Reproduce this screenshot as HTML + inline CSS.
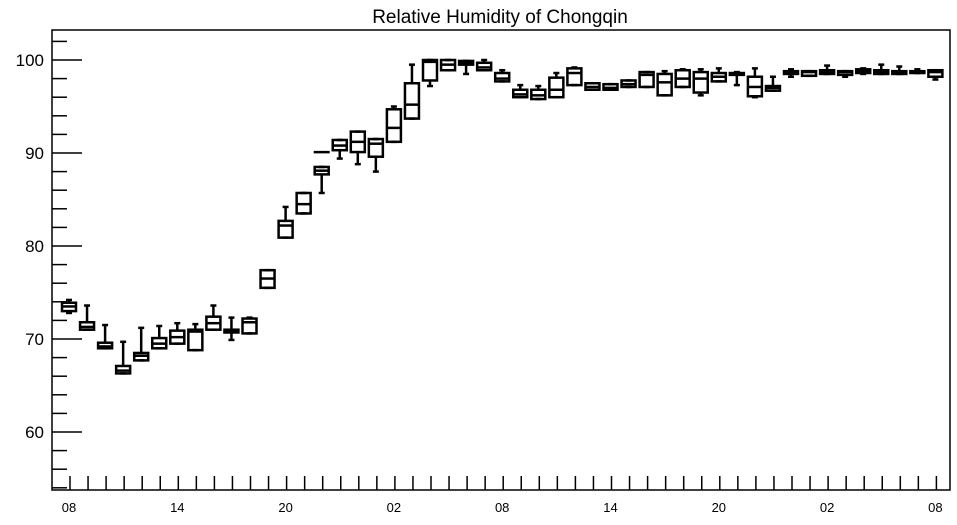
<!DOCTYPE html>
<html><head><meta charset="utf-8"><style>
body{margin:0;background:#fff;}
svg text{font-family:"Liberation Sans",Arial,sans-serif;}
</style></head><body>
<svg id="c" width="957" height="520" xmlns="http://www.w3.org/2000/svg">
<text x="500" y="23" text-anchor="middle" font-size="19">Relative Humidity of Chongqin</text>
<rect x="52" y="30" width="898" height="460" fill="none" stroke="#000" stroke-width="1.5"/>
<g id="axes"></g><g id="marks"></g>
</svg>
<script>
const hourLabels = ["08","14","20","02","08","14","20","02","08"];
const yTicks = [60,70,80,90,100];
const q1  = [73.0,71.0,69.0,66.3,67.7,69.0,69.5,68.8,71.0,70.7,70.6,75.5,80.9,83.5,87.7,90.3,90.1,89.6,91.2,93.7,97.8,98.9,99.5,98.9,97.7,96.0,95.8,96.0,97.3,96.8,96.8,97.1,97.1,96.2,97.1,96.5,97.7,98.4,96.1,96.7,98.5,98.3,98.5,98.4,98.6,98.5,98.5,98.6,98.2];
const med = [73.5,71.3,69.2,66.6,68.2,69.5,70.2,70.8,71.7,70.8,71.8,76.5,82.2,84.5,88.1,90.8,91.2,91.0,92.7,95.2,99.8,99.5,99.7,99.2,98.0,96.3,96.2,96.8,98.6,97.1,97.0,97.4,98.4,97.6,98.0,98.0,98.2,98.5,97.1,97.0,98.7,98.7,98.7,98.7,98.8,98.7,98.7,98.7,98.7];
const q3  = [73.9,71.8,69.6,67.1,68.5,70.1,70.9,71.0,72.4,71.0,72.2,77.4,82.7,85.7,88.5,91.4,92.3,91.5,94.7,97.5,100.0,100.0,99.9,99.7,98.6,96.8,96.8,98.1,99.1,97.5,97.4,97.8,98.7,98.5,98.9,98.7,98.6,98.6,98.2,97.2,98.8,98.8,98.9,98.8,99.0,98.9,98.8,98.8,98.9];
const wmin= [72.8,71.0,69.0,66.3,67.7,69.0,69.5,68.8,71.0,69.9,70.6,75.5,80.9,83.5,85.7,89.4,88.8,88.0,91.2,93.7,97.2,98.9,98.5,98.9,97.7,96.0,95.8,96.0,97.3,96.8,96.8,97.1,97.1,96.2,97.1,96.2,97.7,97.3,96.0,96.7,98.2,98.3,98.5,98.2,98.5,98.5,98.5,98.6,97.9];
const wmax= [74.2,73.6,71.5,69.7,71.2,71.4,71.7,71.6,73.6,72.3,72.3,77.4,84.2,85.7,88.5,91.4,92.3,91.5,95.0,99.5,100.0,100.0,99.9,100.0,98.9,97.3,97.2,98.6,99.2,97.5,97.4,97.8,98.7,98.8,99.0,99.0,99.1,98.7,99.1,98.2,99.0,98.8,99.4,98.8,99.1,99.5,99.3,99.0,98.9];
const outlierIdx = [14];
const outlierVal = [90.1];

const NS="http://www.w3.org/2000/svg";
const xS = i => 69 + 18.05*i;
const yS = v => 60 + (100 - v)*9.3;
function mk(tag, attrs, parent){const e=document.createElementNS(NS,tag);for(const k in attrs)e.setAttribute(k,attrs[k]);parent.appendChild(e);return e;}
const axes=document.getElementById('axes'), marks=document.getElementById('marks');
// y ticks
for(let v=54; v<=102; v+=2){
  const y=yS(v); const major = v%10===0;
  const t=mk('line',{x1:52,x2:major?82:67,y1:y,y2:y,stroke:'#000','stroke-width':1.5},axes);
  
  
}
yTicks.forEach(v=>{
  const t=mk('text',{x:44,y:yS(v)+6,'text-anchor':'end','font-size':17},axes);
  t.textContent=v;
  
  
});
for(let i=0;i<q1.length;i++){
  const t=mk('line',{x1:xS(i)+1,x2:xS(i)+1,y1:476,y2:490,stroke:'#000','stroke-width':1.5},axes);
  
  
}
hourLabels.forEach((l,k)=>{
  const t=mk('text',{x:xS(k*6),y:512,'text-anchor':'middle','font-size':13},axes);
  t.textContent=l;
  
  
});
for(let i=0;i<q1.length;i++){
  const g=mk('g',{stroke:'#000','stroke-width':2.5,fill:'none'},marks);
  
  
  const x=xS(i), hw=7;
  const yt=yS(q3[i]), yb=yS(q1[i]);
  mk('line',{x1:x,x2:x,y1:yS(wmax[i]),y2:yt},g);
  mk('line',{x1:x,x2:x,y1:yb,y2:yS(wmin[i])},g);
  mk('line',{x1:x-3,x2:x+3,y1:yS(wmax[i]),y2:yS(wmax[i])},g);
  mk('line',{x1:x-3,x2:x+3,y1:yS(wmin[i]),y2:yS(wmin[i])},g);
  mk('rect',{x:x-hw,y:yt,width:2*hw,height:Math.max(yb-yt,1)},g);
  mk('line',{x1:x-hw,x2:x+hw,y1:yS(med[i]),y2:yS(med[i])},g);
}
outlierIdx.forEach((i,k)=>{
  const l=mk('line',{x1:xS(i)-8,x2:xS(i)+8,y1:yS(outlierVal[k]),y2:yS(outlierVal[k]),stroke:'#000','stroke-width':2.5},marks);
  
  
});
</script>
</body></html>
